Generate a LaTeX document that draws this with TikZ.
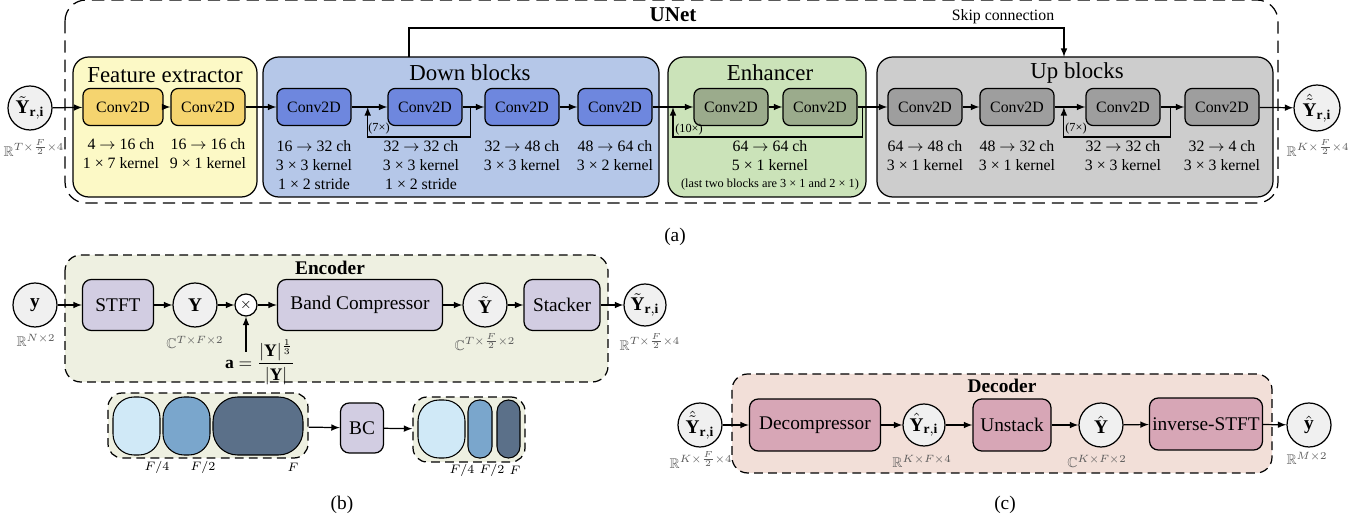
\documentclass[tikz,border=0pt]{standalone}
\usepackage{amsmath,amssymb}
\usepackage{fontspec}
\setmainfont{Liberation Serif}
\usetikzlibrary{arrows,positioning,calc}

\definecolor{circ}{HTML}{F0F0F0}
\definecolor{dimgray}{HTML}{5A5A5A}
\definecolor{featfill}{HTML}{FCF9C6}
\definecolor{featconv}{HTML}{F5D46F}
\definecolor{downfill}{HTML}{B5C7E8}
\definecolor{downconv}{HTML}{6E87DE}
\definecolor{enhfill}{HTML}{CBE3B9}
\definecolor{enhconv}{HTML}{9BAB8C}
\definecolor{upfill}{HTML}{CDCDCD}
\definecolor{upconv}{HTML}{9E9E9E}
\definecolor{encfill}{HTML}{EEF0E1}
\definecolor{lav}{HTML}{D2CDE2}
\definecolor{decfill}{HTML}{F2DFD8}
\definecolor{decbox}{HTML}{D7A6B6}
\definecolor{bandA}{HTML}{D0E9F7}
\definecolor{bandB}{HTML}{7AA6CC}
\definecolor{bandC}{HTML}{5B7089}

\newcommand{\ra}{$\rightarrow$}

\tikzset{
  conv/.style={draw, line width=0.7pt, rounded corners=4pt, minimum width=1.48cm,
    minimum height=0.74cm, inner sep=0pt, font=\fontsize{9}{10}\selectfont},
  grp/.style={draw, line width=0.7pt, rounded corners=9pt},
  dgrp/.style={draw, line width=0.7pt, rounded corners=9pt, dash pattern=on 5pt off 3pt},
  var/.style={draw, circle, line width=0.7pt, fill=circ, minimum size=0.88cm,
    inner sep=0pt, font=\fontsize{11}{12}\selectfont},
  dim/.style={text=dimgray, font=\fontsize{8}{9}\selectfont, inner sep=0pt},
  info/.style={align=center, font=\fontsize{9}{10.8}\selectfont, inner sep=0pt},
  gtitle/.style={font=\fontsize{13}{15}\selectfont, inner sep=0pt},
  op/.style={draw, line width=0.7pt, rounded corners=5pt, minimum height=1.02cm,
    inner sep=0pt, font=\fontsize{11}{12}\selectfont},
  flow/.style={->, line width=0.7pt},
  rep/.style={font=\fontsize{7}{8}\selectfont, inner sep=0pt},
  band/.style={draw, line width=0.6pt},
  flab/.style={font=\fontsize{7}{8}\selectfont, inner sep=0pt},
  >=latex
}

\begin{document}
\begin{tikzpicture}[x=0.02cm,y=-0.02cm]
\useasboundingbox (0,0) rectangle (1363,523);

% (a) UNet
\draw[dgrp, rounded corners=12pt, dash pattern=on 7pt off 4pt] (65,0) rectangle (1278,203);
\node[font=\bfseries\fontsize{12}{14}\selectfont, inner sep=0pt] (unet) at (673,15) {UNet};

\draw[grp, fill=featfill] (73,57) rectangle (257,197);
\draw[grp, fill=downfill] (263,57) rectangle (659,197);
\draw[grp, fill=enhfill] (668,57) rectangle (866,197);
\draw[grp, fill=upfill] (877,57) rectangle (1273,197);
\node[gtitle] (fetitle) at (165,75) {Feature extractor};
\node[gtitle] (dntitle) at (470,73) {Down blocks};
\node[gtitle] (entitle) at (770,73) {Enhancer};
\node[gtitle] (uptitle) at (1077,73) {Up blocks};

\node[var] (yin) at (30,108) {$\tilde{\mathbf{Y}}_{\mathbf{r,i}}$};
\node[dim] (yindim) at (34,148) {$\mathbb{R}^{T\times\frac{F}{2}\times 4}$};

\node[conv, fill=featconv, minimum width=1.6cm] (fe1) at (123,107) {Conv2D};
\node[conv, fill=featconv] (fe2) at (208,107) {Conv2D};
\node[info] (fe1t) at (121,154) {4 \ra{} 16 ch\\1 × 7 kernel};
\node[info] (fe2t) at (208,154) {16 \ra{} 16 ch\\9 × 1 kernel};

\node[conv, fill=downconv] (dn1) at (314,107) {Conv2D};
\node[conv, fill=downconv] (dn2) at (425,107) {Conv2D};
\node[conv, fill=downconv] (dn3) at (522,107) {Conv2D};
\node[conv, fill=downconv] (dn4) at (615,107) {Conv2D};
\node[info] (dn1t) at (314,165) {16 \ra{} 32 ch\\3 × 3 kernel\\1 × 2 stride};
\node[info] (dn2t) at (421,165) {32 \ra{} 32 ch\\3 × 3 kernel\\1 × 2 stride};
\node[info] (dn3t) at (522,156) {32 \ra{} 48 ch\\3 × 3 kernel};
\node[info] (dn4t) at (615,156) {48 \ra{} 64 ch\\3 × 2 kernel};

\node[conv, fill=enhconv] (en1) at (731,107) {Conv2D};
\node[conv, fill=enhconv] (en2) at (820,107) {Conv2D};
\node[info] (ent) at (770,156) {64 \ra{} 64 ch\\5 × 1 kernel};
\node[flab] (ennote) at (770,185) {(last two blocks are 3 × 1 and 2 × 1)};

\node[conv, fill=upconv] (up1) at (925,107) {Conv2D};
\node[conv, fill=upconv] (up2) at (1017,107) {Conv2D};
\node[conv, fill=upconv] (up3) at (1123,107) {Conv2D};
\node[conv, fill=upconv] (up4) at (1222,107) {Conv2D};
\node[info] (up1t) at (925,156) {64 \ra{} 48 ch\\3 × 1 kernel};
\node[info] (up2t) at (1017,156) {48 \ra{} 32 ch\\3 × 1 kernel};
\node[info] (up3t) at (1123,156) {32 \ra{} 32 ch\\3 × 3 kernel};
\node[info] (up4t) at (1222,156) {32 \ra{} 4 ch\\3 × 3 kernel};

\node[var, minimum size=0.92cm] (yout) at (1317,108) {$\hat{\tilde{\mathbf{Y}}}_{\mathbf{r,i}}$};
\node[dim] (youtdim) at (1318,148) {$\mathbb{R}^{K\times\frac{F}{2}\times 4}$};

\draw[flow] (yin) -- (fe1);
\draw[flow] (fe1) -- (fe2);
\draw[flow] (fe2) -- (dn1);
\draw[flow] (dn1) -- (dn2);
\draw[flow] (dn2) -- (dn3);
\draw[flow] (dn3) -- (dn4);
\draw[flow] (dn4) -- (en1);
\draw[flow] (en1) -- (en2);
\draw[flow] (en2) -- (up1);
\draw[flow] (up1) -- (up2);
\draw[flow] (up2) -- (up3);
\draw[flow] (up3) -- (up4);
\draw[flow] (up4) -- (yout);

% repeat loops
\coordinate (dla) at ($(dn2.east)!0.35!(dn3.west)$);
\coordinate (dlb) at ($(dn1.east)!0.45!(dn2.west)$);
\draw[flow] (dla) -- ++(0,30) -| (dlb);
\node[rep] (dnrep) at (379,129) {(7×)};
\coordinate (ela) at ($(en2.east)+(5,0)$);
\coordinate (elb) at ($(dn4.east)!0.5!(en1.west)$);
\draw[flow] (ela) -- ++(0,30) -| (elb);
\node[rep] (enrep) at (689,130) {(10×)};
\coordinate (ula) at ($(up3.east)!0.4!(up4.west)$);
\coordinate (ulb) at ($(up2.east)!0.3!(up3.west)$);
\draw[flow] (ula) -- ++(0,30) -| (ulb);
\node[rep] (uprep) at (1076,129) {(7×)};

% skip connection
\coordinate (skipa) at (409,57);
\coordinate (skipb) at (1064,57);
\draw[flow] (skipa) -- ++(0,-29) -| (skipb);
\node[font=\fontsize{9}{10}\selectfont, inner sep=0pt] (skiplab) at (1003,17) {Skip connection};

\node[font=\fontsize{11}{12}\selectfont] (capa) at (675,237) {(a)};

% (b) Encoder
\draw[dgrp, fill=encfill] (65,255) rectangle (608,382);
\node[font=\bfseries\fontsize{11}{12}\selectfont, inner sep=0pt] (enctitle) at (330,268) {Encoder};

\node[var] (ysig) at (35,305) {$\mathbf{y}$};
\node[dim] (ysigdim) at (36,340) {$\mathbb{R}^{N\times 2}$};
\node[op, fill=lav, minimum width=1.42cm] (stft) at (118,305) {STFT};
\node[var] (yspec) at (195,305) {$\mathbf{Y}$};
\node[dim] (yspecdim) at (195,342) {$\mathbb{C}^{T\times F\times 2}$};
\node[draw, circle, line width=0.7pt, fill=white, minimum size=0.44cm, inner sep=0pt,
  font=\fontsize{8}{9}\selectfont] (mult) at (246,305) {$\times$};
\node[op, fill=lav, minimum width=3.3cm] (bcomp) at (360,305) {Band Compressor};
\node[var] (ycomp) at (485,305) {$\tilde{\mathbf{Y}}$};
\node[dim] (ycompdim) at (485,342) {$\mathbb{C}^{T\times\frac{F}{2}\times 2}$};
\node[op, fill=lav, minimum width=1.52cm] (stack) at (562,305) {Stacker};
\node[var, minimum size=0.84cm] (ystack) at (645,305) {$\tilde{\mathbf{Y}}_{\mathbf{r,i}}$};
\node[dim] (ystackdim) at (650,342) {$\mathbb{R}^{T\times\frac{F}{2}\times 4}$};
\node[font=\fontsize{10}{11}\selectfont, inner sep=0pt] (gain) at (260,362)
  {$\mathbf{a}=\dfrac{|\mathbf{Y}|^{\frac{1}{3}}}{|\mathbf{Y}|}$};
\coordinate (gaintop) at (246,352);

\draw[flow] (ysig) -- (stft);
\draw[flow] (stft) -- (yspec);
\draw[flow] (yspec) -- (mult);
\draw[flow] (mult) -- (bcomp);
\draw[flow] (bcomp) -- (ycomp);
\draw[flow] (ycomp) -- (stack);
\draw[flow] (stack) -- (ystack);
\draw[flow] (gaintop) -- (mult);

% bands before and after compression
\node[dgrp, rounded corners=8pt, fill=encfill, minimum width=4cm, minimum height=1.3cm] (bandin) at (208,425.5) {};
\draw[band, fill=bandA, rounded corners=12pt] (113,397) rectangle (160,455);
\draw[band, fill=bandB, rounded corners=12pt] (163,397) rectangle (210,455);
\draw[band, fill=bandC, rounded corners=14pt] (213,397) rectangle (303,455);
\node[flab] (fa) at (157,467) {$F/4$};
\node[flab] (fb) at (203,467) {$F/2$};
\node[flab] (fc) at (293,467) {$F$};
\node[op, fill=lav, minimum width=0.86cm, minimum height=1.0cm] (bc) at (362,428) {BC};
\node[dgrp, rounded corners=8pt, fill=encfill, minimum width=2.24cm, minimum height=1.3cm] (bandout) at (469,429.5) {};
\draw[band, fill=bandA, rounded corners=12pt] (418,400) rectangle (465,458);
\draw[band, fill=bandB, rounded corners=6.5pt] (468,400) rectangle (492,458);
\draw[band, fill=bandC, rounded corners=6.5pt] (497,400) rectangle (520,458);
\node[flab] (fd) at (462,470) {$F/4$};
\node[flab] (fe) at (492,470) {$F/2$};
\node[flab] (ff) at (515,470) {$F$};
\draw[flow] (bandin) -- (bc);
\draw[flow] (bc) -- (bandout);

\node[font=\fontsize{11}{12}\selectfont] (capb) at (342,505) {(b)};

% (c) Decoder
\draw[dgrp, fill=decfill] (732,374) rectangle (1272,473);
\node[font=\bfseries\fontsize{11}{12}\selectfont, inner sep=0pt] (dectitle) at (1002,386) {Decoder};

\node[var] (din) at (700,425) {$\hat{\tilde{\mathbf{Y}}}_{\mathbf{r,i}}$};
\node[dim] (dindim) at (701,460) {$\mathbb{R}^{K\times\frac{F}{2}\times 4}$};
\node[op, fill=decbox, minimum width=2.62cm, minimum height=1.04cm] (decomp) at (815,425) {Decompressor};
\node[var, minimum size=0.84cm] (yfull) at (924,425) {$\hat{\mathbf{Y}}_{\mathbf{r,i}}$};
\node[dim] (yfulldim) at (922,461) {$\mathbb{R}^{K\times F\times 4}$};
\node[op, fill=decbox, minimum width=1.56cm, minimum height=1.04cm] (unstack) at (1012,425) {Unstack};
\node[var] (yest) at (1101,425) {$\hat{\mathbf{Y}}$};
\node[dim] (yestdim) at (1097,461) {$\mathbb{C}^{K\times F\times 2}$};
\node[op, fill=decbox, minimum width=2.26cm, minimum height=1.04cm] (istft) at (1206,424) {inverse-STFT};
\node[var] (yout2) at (1309,425) {$\hat{\mathbf{y}}$};
\node[dim] (yout2dim) at (1307,458) {$\mathbb{R}^{M\times 2}$};

\draw[flow] (din) -- (decomp);
\draw[flow] (decomp) -- (yfull);
\draw[flow] (yfull) -- (unstack);
\draw[flow] (unstack) -- (yest);
\draw[flow] (yest) -- (istft);
\draw[flow] (istft) -- (yout2);

\node[font=\fontsize{11}{12}\selectfont] (capc) at (1005,505) {(c)};
\end{tikzpicture}
\end{document}
